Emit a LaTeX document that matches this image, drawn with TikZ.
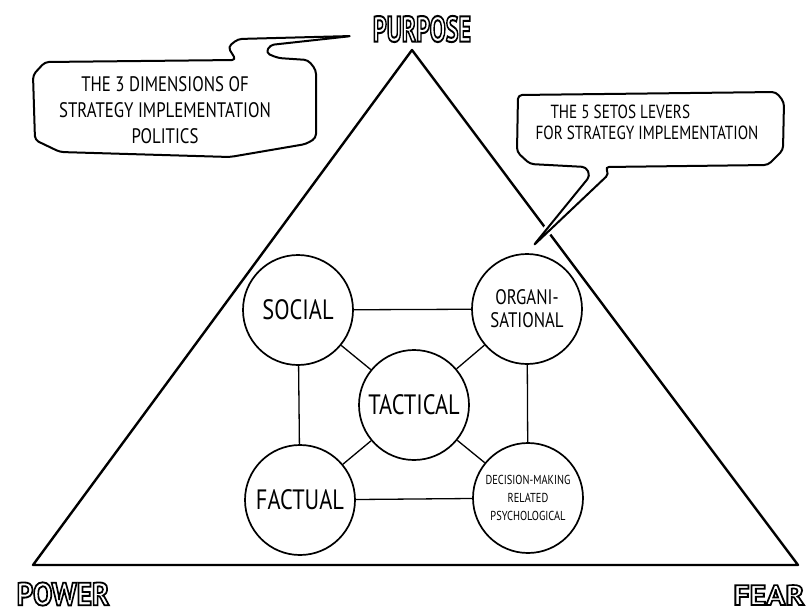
\documentclass[tikz,border=0pt]{standalone}
\usepackage{fontspec}
\usepackage{graphicx}
\newfontfamily\hand[FakeStretch=0.8]{PT Sans}
\newfontfamily\blockhand{PT Sans}
\newcommand\hollow[1]{\special{pdf:literal direct 1 Tr 1.7 w}#1\special{pdf:literal direct 0 Tr}}

\begin{document}
\begin{tikzpicture}[x=1pt,y=-1pt]
    \tikzstyle{every node} = [font=\hand]
    \tikzstyle{lever} = [circle, draw, line width=1.7pt, minimum size=110pt, inner sep=0pt,
        align=center, fill=white, font=\hand\fontsize{28}{30}\selectfont]
    \tikzstyle{link} = [line width=1.3pt]
    \tikzstyle{bubble} = [line width=2pt, rounded corners=4pt, line join=round, fill=white,
        preaction={draw=white, line width=7pt}]
    \tikzstyle{corner} = [inner sep=0pt, font=\blockhand\bfseries\fontsize{30}{30}\selectfont]
    \useasboundingbox (0,0) rectangle (807,614);

    \coordinate (apex) at (412,50);
    \coordinate (left) at (33,565);
    \coordinate (right) at (798,565);
    \draw[line width=2.4pt, line join=round] (left) -- (apex) -- (right) -- cycle;

    \node[corner] (purpose) at (422,29) {\scalebox{0.8}[1.2]{\hollow{PURPOSE}}};
    \node[corner] (power) at (63,594) {\scalebox{0.97}[1.07]{\hollow{POWER}}};
    \node[corner] (fear) at (769,595) {\scalebox{1.06}[0.94]{\hollow{FEAR}}};

    \draw[bubble] (45,62) -- (236,60) -- (228,47) -- (238,39) -- (352,36) -- (270,45)
        -- (266,53) -- (278,58) -- (308,60) -- (316,70) -- (316,138) -- (306,144)
        -- (230,157) -- (60,152) -- (35,140) -- (33,75) -- cycle;
    \node[align=center, font=\hand\fontsize{21}{26}\selectfont] (dimensions) at (165,110)
        {THE 3 DIMENSIONS OF\\STRATEGY IMPLEMENTATION\\POLITICS};

    \draw[bubble] (518,95) -- (776,92) -- (784,102) -- (783,150) -- (768,165) -- (605,167)
        -- (609,174) -- (533,246) -- (590,176) -- (586,167) -- (530,164) -- (517,152) -- cycle;
    \node[anchor=west, align=left, font=\hand\fontsize{19}{21}\selectfont] (levers) at (532,122)
        {\hspace*{15pt}THE 5 SETOS LEVERS\\FOR STRATEGY IMPLEMENTATION};

    \node[lever] (social) at (298,310) {SOCIAL};
    \node[lever, font=\hand\fontsize{21}{23}\selectfont] (organisational) at (527,309) {ORGANI-\\SATIONAL};
    \node[lever] (tactical) at (414,405) {TACTICAL};
    \node[lever] (factual) at (300,500) {FACTUAL};
    \node[lever, font=\hand\fontsize{13}{18}\selectfont] (decision) at (528,498)
        {DECISION-MAKING\\RELATED\\PSYCHOLOGICAL};

    \draw[link] (social) -- (organisational);
    \draw[link] (factual) -- (decision);
    \draw[link] (social) -- (factual);
    \draw[link] (organisational) -- (decision);
    \draw[link] (social) -- (tactical);
    \draw[link] (organisational) -- (tactical);
    \draw[link] (factual) -- (tactical);
    \draw[link] (decision) -- (tactical);
\end{tikzpicture}
\end{document}
